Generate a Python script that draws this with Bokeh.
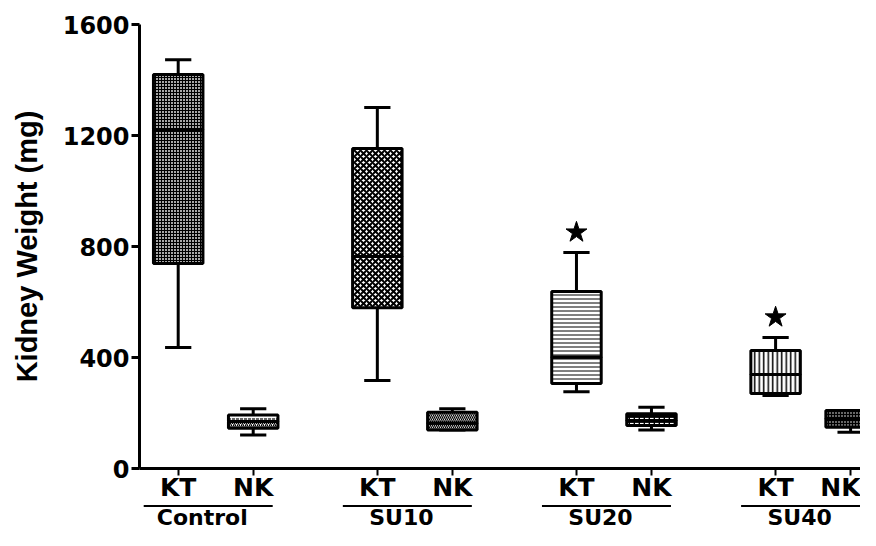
from bokeh.plotting import figure
from bokeh.models import ColumnDataSource, Range1d, FixedTicker
from bokeh.layouts import column
from bokeh.core.properties import value
from bokeh.embed import file_html
from bokeh.resources import INLINE

# ---- data ----
groups = ["Control", "SU10", "SU20", "SU40"]
tissues = ["KT", "NK"]
box_group = ["Control", "Control", "SU10", "SU10", "SU20", "SU20", "SU40", "SU40"]
box_tissue = ["KT", "NK", "KT", "NK", "KT", "NK", "KT", "NK"]
whisker_low = [436, 121, 317, 139, 277, 139, 263, 131]
q1 = [739, 145, 579, 139, 306, 155, 270, 149]
median = [1222, 169, 764, 163, 401, 173, 339, 179]
q3 = [1420, 193, 1153, 203, 638, 197, 425, 209]
whisker_high = [1473, 215, 1301, 215, 778, 221, 472, 209]
star_group = ["SU20", "SU40"]
star_y = [851, 545]
y_ticks = [0, 400, 800, 1200, 1600]
y_label = "Kidney Weight (mg)"

# ---- styles ----
upper_hatch = ["+", '"', "x", "\\", "-", '"', "|", "."]
lower_hatch = ["+", "/", "x", "\\", "-", '"', "|", "."]
hatch_scale = [3, 4, 6, 4, 4, 5, 4.5, 3]
hatch_weight = [1, 1.2, 2, 1.2, 1, 1.2, 1.5, 1]
fill_col = ["#a8a8a8", "white", "white", "white", "white", "black", "white", "black"]
hatch_col = ["black", "black", "black", "black", "black", "white", "black", "white"]

GROUP_STEP = 2.655
BOX_W = 0.66
CAP_W = 0.35
TICK_FONT = "DejaVu Sans"
LABEL_FONT = "Liberation Sans"
W = 860
H1 = 504
H2 = 26

xs = [round(groups.index(g) * GROUP_STEP + tissues.index(t), 3)
      for g, t in zip(box_group, box_tissue)]

src = ColumnDataSource(dict(
    x=xs,
    left=[x - BOX_W / 2 for x in xs],
    right=[x + BOX_W / 2 for x in xs],
    cap_l=[x - CAP_W / 2 for x in xs],
    cap_r=[x + CAP_W / 2 for x in xs],
    wl=whisker_low, q1=q1, med=median, q3=q3, wh=whisker_high,
    uh=upper_hatch, lh=lower_hatch, hs=hatch_scale, hw=hatch_weight,
    fc=fill_col, hc=hatch_col,
))

xr = Range1d(-0.516, 9.097)
p = figure(width=W, height=H1, output_backend="svg", toolbar_location=None,
           x_range=xr, y_range=Range1d(0, 1600),
           min_border_left=139, min_border_right=0, min_border_top=24,
           min_border_bottom=36)
p.grid.visible = False
p.outline_line_color = None
p.background_fill_color = "white"
p.border_fill_color = "white"

# whiskers
p.segment(x0="x", y0="q3", x1="x", y1="wh", source=src, line_color="black", line_width=3)
p.segment(x0="x", y0="wl", x1="x", y1="q1", source=src, line_color="black", line_width=3)
p.segment(x0="cap_l", y0="wh", x1="cap_r", y1="wh", source=src, line_color="black", line_width=3)
p.segment(x0="cap_l", y0="wl", x1="cap_r", y1="wl", source=src, line_color="black", line_width=3)

# box halves
p.quad(left="left", right="right", bottom="med", top="q3", source=src,
       fill_color="fc", hatch_pattern="uh", hatch_scale="hs", hatch_weight="hw",
       hatch_color="hc", line_color="black", line_width=3)
p.quad(left="left", right="right", bottom="q1", top="med", source=src,
       fill_color="fc", hatch_pattern="lh", hatch_scale="hs", hatch_weight="hw",
       hatch_color="hc", line_color="black", line_width=3)
p.segment(x0="left", y0="med", x1="right", y1="med", source=src, line_color="black", line_width=3)

# significance stars
star_x = [round(groups.index(g) * GROUP_STEP, 3) for g in star_group]
p.scatter(star_x, star_y, marker="star", size=22, color="black")

# y axis
ya = p.yaxis[0]
ya.ticker = FixedTicker(ticks=y_ticks)
ya.axis_label = y_label
ya.axis_label_text_font = LABEL_FONT
ya.axis_label_text_font_style = "bold"
ya.axis_label_text_font_size = "29px"
ya.axis_label_text_color = "black"
ya.axis_label_standoff = 17
ya.major_label_text_font = TICK_FONT
ya.major_label_text_font_style = "bold"
ya.major_label_text_font_size = "24px"
ya.major_label_text_color = "black"
ya.major_label_standoff = 2
ya.axis_line_width = 3
ya.axis_line_color = "black"
ya.major_tick_line_width = 3
ya.major_tick_line_color = "black"
ya.major_tick_out = 8
ya.major_tick_in = 0
ya.minor_tick_line_color = None

# x axis (KT / NK)
xa = p.xaxis[0]
xa.ticker = FixedTicker(ticks=xs)
xa.major_label_overrides = {x: t for x, t in zip(xs, box_tissue)}
xa.major_label_text_font = TICK_FONT
xa.major_label_text_font_style = "bold"
xa.major_label_text_font_size = "25px"
xa.major_label_text_color = "black"
xa.major_label_standoff = -3
xa.axis_line_width = 3
xa.axis_line_color = "black"
xa.major_tick_line_width = 2
xa.major_tick_line_color = "black"
xa.major_tick_out = 7
xa.major_tick_in = 0
xa.minor_tick_line_color = None

# ---- group strip below: underlines and group names ----
g = figure(width=W, height=H2, output_backend="svg", toolbar_location=None,
           x_range=xr, y_range=Range1d(0, H2),
           min_border_left=139, min_border_right=0, min_border_top=0,
           min_border_bottom=0, x_axis_location=None, y_axis_location=None)
g.grid.visible = False
g.outline_line_color = None
g.background_fill_color = "white"
g.border_fill_color = "white"

centers = [i * GROUP_STEP + 0.5 for i in range(len(groups))]
g.segment(x0=[c - 0.1 - 0.86 for c in centers], y0=[H2 - 1.5] * 4,
          x1=[c - 0.1 + 0.86 for c in centers], y1=[H2 - 1.5] * 4,
          line_color="black", line_width=2)
g.text(x=[c - 0.18 for c in centers], y=[H2 / 2] * 4, text=groups,
       text_align="center", text_baseline="middle",
       text_font=value(TICK_FONT), text_font_style="bold",
       text_font_size="22px", text_color="black")

layout = column(p, g, spacing=0)
open("out.html", "w").write(file_html(layout, INLINE))
